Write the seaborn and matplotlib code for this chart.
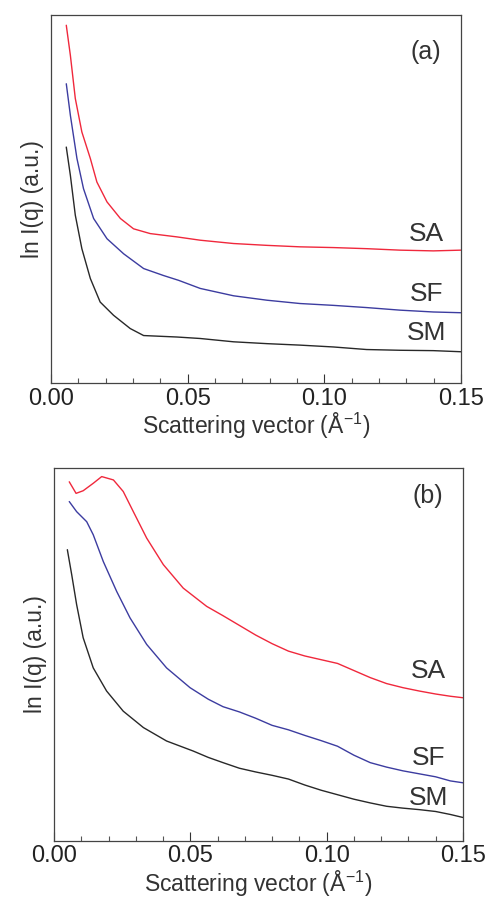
import numpy as np
import pandas as pd
import matplotlib
matplotlib.use("Agg")
import matplotlib.pyplot as plt
from matplotlib.ticker import MultipleLocator
import seaborn as sns

# ---- Panel (a) data (q in 1/Å, ln I in arbitrary units) ----
a_sa_q = [0.0056, 0.0071, 0.0089, 0.0113, 0.0144, 0.0168, 0.0205, 0.0254, 0.0302, 0.0363,
          0.0461, 0.0546, 0.0668, 0.0790, 0.0911, 0.1033, 0.1155, 0.1277, 0.1399, 0.1500]
a_sa_i = [97.3, 89.1, 77.4, 68.3, 61.1, 54.7, 49.3, 44.8, 42.0, 40.7,
          39.8, 38.9, 38.0, 37.5, 37.1, 36.9, 36.6, 36.2, 36.0, 36.2]
a_sf_q = [0.0056, 0.0071, 0.0095, 0.0119, 0.0156, 0.0205, 0.0266, 0.0339, 0.0412, 0.0467,
          0.0546, 0.0668, 0.0790, 0.0911, 0.1033, 0.1155, 0.1277, 0.1399, 0.1500]
a_sf_i = [81.4, 72.8, 61.1, 52.9, 44.8, 39.3, 35.2, 31.2, 29.3, 28.0,
          25.8, 23.8, 22.6, 21.7, 21.2, 20.6, 19.9, 19.4, 19.2]
a_sm_q = [0.0056, 0.0071, 0.0089, 0.0113, 0.0144, 0.0180, 0.0229, 0.0290, 0.0339, 0.0461,
          0.0546, 0.0668, 0.0790, 0.0911, 0.1033, 0.1155, 0.1277, 0.1399, 0.1500]
a_sm_i = [64.2, 56.5, 45.7, 36.6, 28.5, 22.1, 18.5, 14.9, 13.0, 12.6,
          12.2, 11.3, 10.8, 10.4, 9.9, 9.2, 9.0, 8.9, 8.6]

# ---- Panel (b) data ----
b_sa_q = [0.0056, 0.0081, 0.0107, 0.0144, 0.0175, 0.0218, 0.0254, 0.0291, 0.0340, 0.0401,
          0.0474, 0.0560, 0.0620, 0.0680, 0.0740, 0.0800, 0.0860, 0.0920, 0.0980, 0.1040,
          0.1100, 0.1160, 0.1220, 0.1280, 0.1340, 0.1400, 0.1454, 0.1500]
b_sa_i = [96.3, 93.2, 93.9, 95.9, 97.7, 96.8, 93.7, 88.3, 81.2, 74.1,
          67.8, 62.9, 60.4, 57.8, 55.2, 52.9, 50.9, 49.6, 48.6, 47.6,
          45.7, 43.8, 42.2, 41.1, 40.2, 39.4, 38.8, 38.4]
b_sf_q = [0.0056, 0.0083, 0.0120, 0.0144, 0.0181, 0.0230, 0.0279, 0.0340, 0.0413, 0.0499,
          0.0566, 0.0620, 0.0680, 0.0740, 0.0800, 0.0860, 0.0920, 0.0980, 0.1040, 0.1100,
          0.1160, 0.1220, 0.1280, 0.1340, 0.1400, 0.1454, 0.1500]
b_sf_i = [91.0, 88.3, 85.6, 82.1, 74.9, 66.9, 59.8, 52.7, 46.4, 41.1,
          38.0, 36.0, 34.6, 32.9, 31.0, 29.8, 28.3, 26.9, 25.4, 23.0,
          21.0, 19.8, 18.8, 18.0, 17.2, 16.1, 15.6]
b_sm_q = [0.0049, 0.0065, 0.0083, 0.0107, 0.0144, 0.0193, 0.0254, 0.0328, 0.0413, 0.0511,
          0.0566, 0.0620, 0.0680, 0.0740, 0.0800, 0.0860, 0.0920, 0.0980, 0.1040, 0.1100,
          0.1160, 0.1220, 0.1280, 0.1340, 0.1400, 0.1454, 0.1500]
b_sm_i = [78.1, 71.4, 63.4, 54.5, 46.4, 40.2, 34.8, 30.4, 26.8, 24.1,
          22.4, 21.0, 19.5, 18.5, 17.6, 16.6, 15.0, 13.6, 12.4, 11.2,
          10.2, 9.3, 8.8, 8.4, 7.9, 7.1, 6.3]

samples = ["SA", "SF", "SM"]
colors = {"SA": "#f0283c", "SF": "#3c3ca0", "SM": "#282828"}
panel_labels = ["(a)", "(b)"]
x_ticks = [0.00, 0.05, 0.10, 0.15]
x_ticklabels = ["0.00", "0.05", "0.10", "0.15"]

def make_df(series):
    frames = []
    for name, q, i in series:
        frames.append(pd.DataFrame({"q": q, "lnI": i, "sample": name}))
    return pd.concat(frames, ignore_index=True)

df_a = make_df([("SA", a_sa_q, a_sa_i), ("SF", a_sf_q, a_sf_i), ("SM", a_sm_q, a_sm_i)])
df_b = make_df([("SA", b_sa_q, b_sa_i), ("SF", b_sf_q, b_sf_i), ("SM", b_sm_q, b_sm_i)])

sns.set_theme(style="white")
plt.rcParams["font.family"] = ["Liberation Sans", "DejaVu Sans"]
plt.rcParams["mathtext.default"] = "regular"

fig = plt.figure(figsize=(4.93, 9.0), dpi=100)
ax_a = fig.add_axes([0.1034, 0.574, 0.8316, 0.409])
ax_b = fig.add_axes([0.1095, 0.0656, 0.8295, 0.4144])

label_pos = {
    "(a)": {"SA": 40.7, "SF": 24.4, "SM": 13.6, "panel": 90.0},
    "(b)": {"SA": 45.5, "SF": 22.3, "SM": 11.6, "panel": 92.4},
}

for ax, df, plab in [(ax_a, df_a, "(a)"), (ax_b, df_b, "(b)")]:
    sns.lineplot(data=df, x="q", y="lnI", hue="sample", hue_order=samples,
                 palette=colors, ax=ax, legend=False, linewidth=1.0,
                 estimator=None, sort=True)
    ax.set_xlim(0, 0.15)
    ax.set_ylim(0, 100)
    ax.set_xticks(x_ticks)
    ax.set_xticklabels(x_ticklabels)
    ax.xaxis.set_minor_locator(MultipleLocator(0.01))
    ax.set_yticks([])
    ax.tick_params(axis="x", which="major", direction="in", length=6.5, width=0.8,
                   labelsize=17, pad=3, colors="#333333", bottom=True, top=False)
    ax.tick_params(axis="x", which="minor", direction="in", length=3.5, width=0.8,
                   bottom=True, top=False, colors="#555555")
    ax.tick_params(axis="x", labelcolor="#222222")
    for sp in ax.spines.values():
        sp.set_color("#444444")
        sp.set_linewidth(0.9)
    ax.set_xlabel("Scattering vector (Å$^{-1}$)", fontsize=16.5, color="#333333", labelpad=1)
    ax.set_ylabel("ln I(q) (a.u.)", fontsize=16.5, color="#333333", labelpad=5)
    pos = label_pos[plab]
    for s in samples:
        ax.text(0.1375, pos[s], s, fontsize=19, color="#333333", ha="center", va="center")
    ax.text(0.1372, pos["panel"], plab, fontsize=18, color="#333333", ha="center", va="center")

fig.savefig("out.png", dpi=100)
